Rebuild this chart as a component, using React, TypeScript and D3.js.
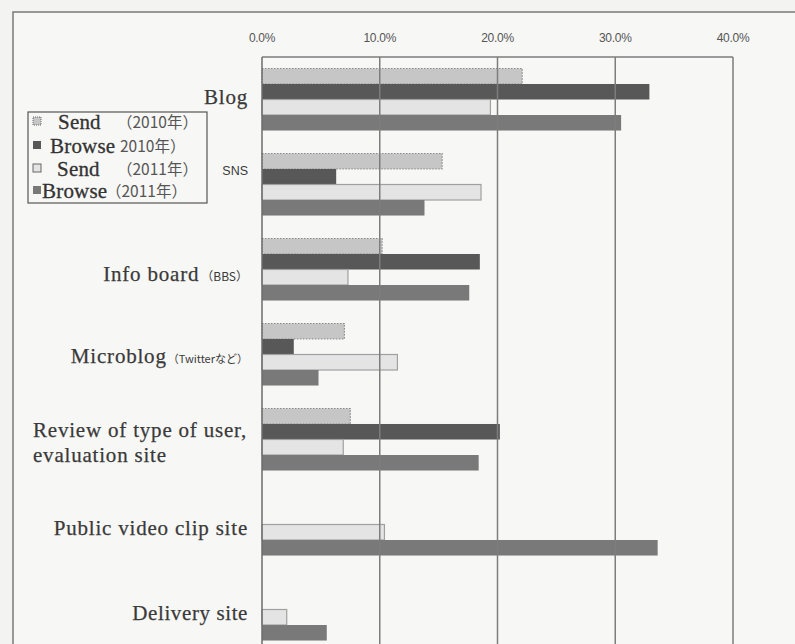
import React from "react";
import * as d3 from "d3";

const categories = ["Blog", "SNS", "Info board", "Microblog", "Review", "Public video clip site", "Delivery site"];
const send2010: (number | null)[] = [22.1, 15.3, 10.2, 7.0, 7.5, null, null];
const browse2010: (number | null)[] = [32.9, 6.3, 18.5, 2.7, 20.2, null, null];
const send2011: (number | null)[] = [19.4, 18.6, 7.3, 11.5, 6.9, 10.4, 2.1];
const browse2011: (number | null)[] = [30.5, 13.8, 17.6, 4.8, 18.4, 33.6, 5.5];
const tickValues = [0, 10, 20, 30, 40];
const tickLabels = ["0.0%", "10.0%", "20.0%", "30.0%", "40.0%"];

const seriesKeys = ["send2010", "browse2010", "send2011", "browse2011"];
const seriesData = [send2010, browse2010, send2011, browse2011];
const seriesFill = ["#c6c6c6", "#585858", "#e4e4e4", "#797979"];
const seriesStroke = ["#8a8a8a", "none", "#a0a0a0", "none"];
const seriesDash = ["1.5,1.5", "", "", ""];

const W = 795;
const H = 644;
const plotLeft = 262;
const plotRight = 733;
const plotTop = 57;
const plotBottom = plotTop + 7 * 85;

export default function App() {
  const x = d3.scaleLinear().domain([0, 40]).range([plotLeft, plotRight]);
  const y = d3
    .scaleBand<string>()
    .domain(categories)
    .range([plotTop, plotBottom])
    .paddingInner(0.27)
    .paddingOuter(0.135);
  const y1 = d3.scaleBand<string>().domain(seriesKeys).range([0, y.bandwidth()]);

  const serif = "'Liberation Serif', 'DejaVu Serif', serif";
  const sans = "'Liberation Sans', Arial, sans-serif";
  const jp = "'Noto Sans CJK JP', 'Liberation Sans', sans-serif";
  const labelColor = "#3a3a3a";
  const c = (i: number) => (y(categories[i]) as number) + y.bandwidth() / 2;

  return (
    <svg
      width={W}
      height={H}
      style={{ position: "absolute", left: 0, top: 0, background: "#f3f3f1" }}
    >
      <rect x={13} y={12} width={W} height={H} fill="#f7f7f5" stroke="#7a7a7a" strokeWidth={1.5} />

      {/* tick labels */}
      {tickValues.map((t, i) => (
        <text
          key={t}
          x={x(t)}
          y={42}
          textAnchor="middle"
          fontFamily={sans}
          fontSize={12}
          fill="#555"
          letterSpacing={-0.3}
        >
          {tickLabels[i]}
        </text>
      ))}

      {/* bars */}
      {seriesData.map((arr, si) =>
        arr.map((v, ci) =>
          v == null ? null : (
            <rect
              key={seriesKeys[si] + ci}
              x={x(0)}
              y={(y(categories[ci]) as number) + (y1(seriesKeys[si]) as number)}
              width={x(v) - x(0)}
              height={y1.bandwidth()}
              fill={seriesFill[si]}
              stroke={seriesStroke[si]}
              strokeWidth={seriesStroke[si] === "none" ? 0 : 1.2}
              strokeDasharray={seriesDash[si] || undefined}
            />
          )
        )
      )}

      {/* gridlines and plot frame */}
      {tickValues.slice(1).map((t) => (
        <line key={t} x1={x(t)} x2={x(t)} y1={plotTop} y2={plotBottom} stroke="#7d7d7d" strokeWidth={1.5} />
      ))}
      <line x1={plotLeft} x2={plotRight} y1={plotTop} y2={plotTop} stroke="#7d7d7d" strokeWidth={1.5} />
      <line x1={plotLeft} x2={plotLeft} y1={plotTop} y2={plotBottom} stroke="#6d6d6d" strokeWidth={1.5} />

      {/* category labels */}
      <g fill={labelColor} textAnchor="end" stroke={labelColor} strokeWidth={0.25}>
        <text x={248} y={c(0) + 4} fontFamily={serif} fontSize={21} letterSpacing={0.8}>Blog</text>
        <text x={248} y={c(1) - 10} fontFamily={sans} fontSize={12.5} strokeWidth={0}>SNS</text>
        <text x={248} y={c(2) + 11} fontFamily={serif} fontSize={21} letterSpacing={0.8}>
          Info board
          <tspan fontFamily={jp} fontSize={12} dx={2} strokeWidth={0} letterSpacing={0}>（BBS）</tspan>
        </text>
        <text x={248} y={c(3) + 8} fontFamily={serif} fontSize={21} letterSpacing={0.8}>
          Microblog
          <tspan fontFamily={jp} fontSize={11} dx={1} strokeWidth={0} letterSpacing={0}>（Twitterなど）</tspan>
        </text>
        <text textAnchor="start" x={33} y={c(4) - 2.5} fontFamily={serif} fontSize={21} letterSpacing={0.8}>
          Review of type of user,
          <tspan x={33} dy={25}>evaluation site</tspan>
        </text>
        <text x={248} y={c(5) + 10.5} fontFamily={serif} fontSize={21} letterSpacing={0.8}>Public video clip site</text>
        <text x={248} y={c(6) + 10.5} fontFamily={serif} fontSize={21} letterSpacing={0.6}>Delivery site</text>
      </g>

      {/* legend */}
      <g>
        <rect x={28} y={112} width={179} height={91} fill="#f7f7f5" stroke="#555" strokeWidth={1.2} />
        {[
          { m: 0, label: "Send", lx: 58, yr: "（2010年）", yx: 117, by: 129 },
          { m: 1, label: "Browse", lx: 50, yr: "2010年）", yx: 120, by: 153 },
          { m: 2, label: "Send", lx: 57, yr: "（2011年）", yx: 117, by: 176 },
          { m: 3, label: "Browse", lx: 42, yr: "（2011年）", yx: 106, by: 198 },
        ].map((e) => (
          <g key={e.m}>
            <rect
              x={33}
              y={e.by - 12}
              width={8}
              height={8}
              fill={seriesFill[e.m]}
              stroke={e.m === 0 || e.m === 2 ? "#666" : "none"}
              strokeWidth={1}
              strokeDasharray={e.m === 0 ? "1,1" : undefined}
            />
            <text x={e.lx} y={e.by} fontFamily={serif} fontSize={21} fill="#333" stroke="#333" strokeWidth={0.3} letterSpacing={0.2}>
              {e.label}
            </text>
            <text x={e.yx} y={e.by - 1} fontFamily={jp} fontSize={15.5} fill="#555">
              {e.yr}
            </text>
          </g>
        ))}
      </g>
    </svg>
  );
}
